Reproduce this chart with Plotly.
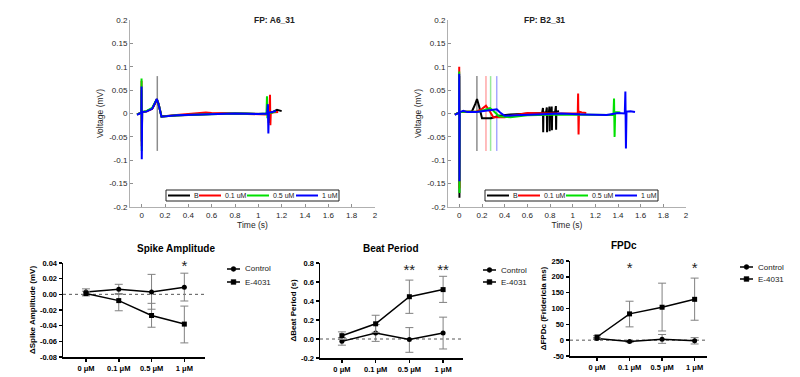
import plotly.graph_objects as go

# ---------------- Field potential traces ----------------
conc_labels = ["B", "0.1 uM", "0.5 uM", "1 uM"]
trace_colors = ["#000000", "#ff0000", "#00e000", "#0000ff"]
marker_colors = ["rgba(0,0,0,0.45)", "rgba(255,0,0,0.35)", "rgba(0,200,0,0.4)", "rgba(0,0,255,0.35)"]

# FP: A6_31
a6_B_t = [-0.04, -0.01, -0.003, -0.001, 0.001, 0.004, 0.04, 0.09, 0.115, 0.13, 0.145, 0.17, 0.25, 0.45, 0.7, 0.9, 1.07, 1.085, 1.09, 1.095, 1.1, 1.13, 1.16, 1.2]
a6_B_v = [-0.002, 0.0, 0.002, 0.05, -0.06, 0.003, 0.005, 0.01, 0.022, 0.031, 0.02, -0.006, -0.005, -0.003, 0.0, 0.0, -0.001, 0.015, -0.02, 0.003, 0.0, 0.004, 0.008, 0.005]
a6_01_t = [-0.04, -0.01, -0.003, -0.001, 0.001, 0.004, 0.04, 0.09, 0.115, 0.13, 0.145, 0.17, 0.3, 0.55, 0.6, 0.8, 1.0, 1.07, 1.095, 1.1, 1.103, 1.107, 1.12, 1.17]
a6_01_v = [-0.002, 0.0, 0.002, 0.07, -0.07, 0.003, 0.004, 0.01, 0.022, 0.03, 0.02, -0.007, -0.003, 0.002, 0.001, 0.0, -0.002, -0.002, 0.0, 0.04, -0.025, 0.003, 0.002, 0.003]
a6_05_t = [-0.04, -0.01, -0.003, -0.001, 0.001, 0.004, 0.04, 0.09, 0.115, 0.13, 0.145, 0.17, 0.3, 0.5, 0.8, 1.0, 1.07, 1.074, 1.078, 1.082, 1.1, 1.15]
a6_05_v = [-0.002, 0.0, 0.002, 0.075, -0.08, 0.003, 0.005, 0.012, 0.024, 0.03, 0.02, -0.007, -0.004, -0.002, 0.0, -0.001, 0.0, 0.037, -0.01, 0.002, 0.001, 0.004]
a6_1_t = [-0.04, -0.01, -0.003, -0.001, 0.001, 0.004, 0.04, 0.09, 0.115, 0.13, 0.145, 0.17, 0.3, 0.5, 0.8, 1.0, 1.075, 1.082, 1.086, 1.09, 1.12, 1.15]
a6_1_v = [-0.003, 0.0, 0.002, 0.058, -0.098, 0.003, 0.004, 0.01, 0.023, 0.031, 0.02, -0.007, -0.004, -0.002, 0.0, -0.001, 0.0, 0.02, -0.043, 0.002, 0.003, 0.006]
a6_marker_t = [0.134]

# FP: B2_31
b2_B_t = [-0.04, -0.01, -0.002, -0.001, 0.001, 0.003, 0.05, 0.11, 0.14, 0.156, 0.175, 0.2, 0.28, 0.35, 0.45, 0.6, 0.73,
          0.738, 0.74, 0.742, 0.765, 0.772, 0.774, 0.776, 0.79, 0.795, 0.797, 0.799, 0.81, 0.815, 0.817, 0.819, 0.845, 0.852, 0.854, 0.856, 0.88]
b2_B_v = [-0.002, 0.0, 0.002, 0.08, -0.18, 0.003, 0.004, 0.004, 0.02, 0.031, 0.015, -0.01, -0.01, -0.005, -0.002, 0.0, 0.001,
          0.012, -0.04, 0.002, 0.002, 0.013, -0.04, 0.002, 0.002, 0.015, -0.038, 0.002, 0.002, 0.015, -0.036, 0.002, 0.003, 0.016, -0.035, 0.004, 0.005]
b2_01_t = [-0.04, -0.01, -0.002, -0.001, 0.001, 0.003, 0.05, 0.15, 0.2, 0.235, 0.26, 0.3, 0.4, 0.5, 0.6, 0.8, 1.0, 1.045, 1.048, 1.052, 1.056, 1.08, 1.12]
b2_01_v = [-0.002, 0.0, 0.002, 0.1, -0.16, 0.003, 0.004, 0.004, 0.01, 0.0165, 0.008, -0.008, -0.008, -0.003, 0.001, 0.0, -0.001, 0.0, 0.043, -0.045, 0.004, 0.002, 0.001]
b2_05_t = [-0.04, -0.01, -0.002, -0.001, 0.001, 0.003, 0.05, 0.17, 0.23, 0.27, 0.3, 0.35, 0.45, 0.6, 0.9, 1.2, 1.36, 1.365, 1.37, 1.375, 1.4, 1.42]
b2_05_v = [-0.002, 0.0, 0.002, 0.09, -0.17, 0.003, 0.004, 0.004, 0.008, 0.0115, 0.006, -0.006, -0.008, -0.004, -0.002, -0.002, -0.003, 0.032, -0.05, 0.003, 0.002, 0.002]
b2_1_t = [-0.04, -0.01, -0.002, -0.001, 0.001, 0.003, 0.035, 0.07, 0.15, 0.25, 0.33, 0.36, 0.4, 0.5, 0.7, 0.9, 1.1, 1.3, 1.4, 1.46, 1.465, 1.47, 1.475, 1.51, 1.55]
b2_1_v = [-0.003, 0.0, 0.002, 0.085, -0.145, 0.003, 0.006, 0.003, 0.003, 0.006, 0.009, 0.002, -0.005, -0.004, -0.002, 0.0, -0.002, -0.003, 0.001, 0.0, 0.047, -0.075, 0.004, 0.005, 0.003]
b2_marker_t = [0.155, 0.235, 0.276, 0.33]

marker_v = [-0.08, 0.08]

# ---------------- Summary statistics ----------------
categories = ["0 μM", "0.1 μM", "0.5 μM", "1 μM"]
cat_pos = [0, 1, 2, 3]
group_names = ["Control", "E-4031"]

spike_ctrl = [0.003, 0.0064, 0.003, 0.009]
spike_ctrl_up = [0.004, 0.0064, 0.0225, 0.018]
spike_ctrl_dn = [0.004, 0.0064, 0.022, 0.0175]
spike_e = [0.001, -0.008, -0.027, -0.038]
spike_e_up = [0.003, 0.009, 0.0155, 0.023]
spike_e_dn = [0.003, 0.013, 0.015, 0.024]
spike_star_x = [3]
spike_star_y = [0.034]
spike_star_txt = ["*"]

beat_ctrl = [-0.025, 0.063, -0.005, 0.063]
beat_ctrl_up = [0.04, 0.09, 0.125, 0.167]
beat_ctrl_dn = [0.04, 0.088, 0.135, 0.168]
beat_e = [0.035, 0.16, 0.445, 0.52]
beat_e_up = [0.04, 0.09, 0.175, 0.14]
beat_e_dn = [0.04, 0.09, 0.175, 0.135]
beat_star_x = [2, 3]
beat_star_y = [0.71, 0.71]
beat_star_txt = ["**", "**"]

fpd_ctrl = [5, -4, 3, -2]
fpd_ctrl_up = [3, 3, 15, 10]
fpd_ctrl_dn = [3, 3, 13, 10]
fpd_e = [10, 83, 104, 129]
fpd_e_up = [4, 40, 76, 67]
fpd_e_dn = [4, 41, 75, 66]
fpd_star_x = [1, 3]
fpd_star_y = [225, 225]
fpd_star_txt = ["*", "*"]

fp_x_ticks = [0, 0.2, 0.4, 0.6, 0.8, 1, 1.2, 1.4, 1.6, 1.8, 2]
fp_x_text = ["0", "0.2", "0.4", "0.6", "0.8", "1", "1.2", "1.4", "1.6", "1.8", "2"]
fp_y_ticks = [-0.2, -0.15, -0.1, -0.05, 0, 0.05, 0.1, 0.15, 0.2]
fp_y_text = ["-0.2", "-0.15", "-0.1", "-0.05", "0", "0.05", "0.1", "0.15", "0.2"]

spike_y_ticks = [-0.08, -0.06, -0.04, -0.02, 0.0, 0.02, 0.04]
spike_y_text = ["-0.08", "-0.06", "-0.04", "-0.02", "0.00", "0.02", "0.04"]
beat_y_ticks = [-0.2, 0.0, 0.2, 0.4, 0.6, 0.8]
beat_y_text = ["-0.2", "0.0", "0.2", "0.4", "0.6", "0.8"]
fpd_y_ticks = [-50, 0, 50, 100, 150, 200, 250]
fpd_y_text = ["-50", "0", "50", "100", "150", "200", "250"]

FONT = "Liberation Sans, Arial, sans-serif"
W, H = 800, 377


def px(x):
    return x / W


def py(y):
    return (H - y) / H


fig = go.Figure()

# ---- top panels ----
a6_series = [(a6_B_t, a6_B_v), (a6_01_t, a6_01_v), (a6_05_t, a6_05_v), (a6_1_t, a6_1_v)]
b2_series = [(b2_B_t, b2_B_v), (b2_01_t, b2_01_v), (b2_05_t, b2_05_v), (b2_1_t, b2_1_v)]

for t in a6_marker_t:
    fig.add_trace(go.Scatter(x=[t, t], y=marker_v, mode="lines", line=dict(color=marker_colors[0], width=1.5),
                             showlegend=False, hoverinfo="skip", xaxis="x", yaxis="y"))
for i, t in enumerate(b2_marker_t):
    fig.add_trace(go.Scatter(x=[t, t], y=marker_v, mode="lines", line=dict(color=marker_colors[i], width=1.5),
                             showlegend=False, hoverinfo="skip", xaxis="x2", yaxis="y2"))

for i, (t, v) in enumerate(a6_series):
    fig.add_trace(go.Scatter(x=t, y=v, mode="lines", name=conc_labels[i], showlegend=False,
                             line=dict(color=trace_colors[i], width=2), xaxis="x", yaxis="y"))
for i, (t, v) in enumerate(b2_series):
    fig.add_trace(go.Scatter(x=t, y=v, mode="lines", name=conc_labels[i], showlegend=False,
                             line=dict(color=trace_colors[i], width=2), xaxis="x2", yaxis="y2"))


# ---- bottom panels ----
def add_summary(xa, ya, ctrl, cu, cd, e, eu, ed, sx, sy, st):
    fig.add_trace(go.Scatter(x=cat_pos, y=ctrl, mode="lines+markers", name=group_names[0], showlegend=False,
                             line=dict(color="black", width=1.5), marker=dict(symbol="circle", size=5, color="black"),
                             error_y=dict(type="data", array=cu, arrayminus=cd, color="#808080", thickness=1, width=4),
                             xaxis=xa, yaxis=ya))
    fig.add_trace(go.Scatter(x=cat_pos, y=e, mode="lines+markers", name=group_names[1], showlegend=False,
                             line=dict(color="black", width=1.5), marker=dict(symbol="square", size=5, color="black"),
                             error_y=dict(type="data", array=eu, arrayminus=ed, color="#808080", thickness=1, width=4),
                             xaxis=xa, yaxis=ya))
    fig.add_trace(go.Scatter(x=sx, y=sy, mode="text", text=st, textfont=dict(size=15, color="#222", family=FONT),
                             showlegend=False, hoverinfo="skip", cliponaxis=False, xaxis=xa, yaxis=ya))


add_summary("x3", "y3", spike_ctrl, spike_ctrl_up, spike_ctrl_dn, spike_e, spike_e_up, spike_e_dn,
            spike_star_x, spike_star_y, spike_star_txt)
add_summary("x4", "y4", beat_ctrl, beat_ctrl_up, beat_ctrl_dn, beat_e, beat_e_up, beat_e_dn,
            beat_star_x, beat_star_y, beat_star_txt)
add_summary("x5", "y5", fpd_ctrl, fpd_ctrl_up, fpd_ctrl_dn, fpd_e, fpd_e_up, fpd_e_dn,
            fpd_star_x, fpd_star_y, fpd_star_txt)

shapes = []
annotations = []
for xa, ya in [("x3", "y3"), ("x4", "y4"), ("x5", "y5")]:
    shapes.append(dict(type="line", xref=xa + " domain", yref=ya, x0=0, x1=1, y0=0, y1=0,
                       line=dict(color="#555", width=1, dash="dot"), layer="below"))

# ---- legends drawn as boxed keys (layout positions in pixels) ----
top_legend_boxes = [(166, 190, 339, 201), (485, 190, 658, 201)]
top_legend_offsets = [2, 33, 81, 130]
for (bx0, by0, bx1, by1) in top_legend_boxes:
    shapes.append(dict(type="rect", xref="paper", yref="paper", x0=px(bx0), x1=px(bx1), y0=py(by1), y1=py(by0),
                       line=dict(color="#222", width=1), fillcolor="white", layer="above"))
    yc = (by0 + by1) / 2
    for i, off in enumerate(top_legend_offsets):
        lx = bx0 + off
        shapes.append(dict(type="line", xref="paper", yref="paper", x0=px(lx), x1=px(lx + 22), y0=py(yc), y1=py(yc),
                           line=dict(color=trace_colors[i], width=2), layer="above"))
        annotations.append(dict(text=conc_labels[i], x=px(lx + 24), y=py(yc), xref="paper", yref="paper",
                                xanchor="left", yanchor="middle", showarrow=False,
                                font=dict(family=FONT, size=7, color="#222")))

bottom_legends = [(227, 269, 282), (483, 270, 282), (740, 267, 279)]
for (lx, r1, r2) in bottom_legends:
    for j, ry in enumerate([r1, r2]):
        shapes.append(dict(type="line", xref="paper", yref="paper", x0=px(lx), x1=px(lx + 13), y0=py(ry), y1=py(ry),
                           line=dict(color="black", width=1.5), layer="above"))
        cx = lx + 6.5
        shapes.append(dict(type="circle" if j == 0 else "rect", xref="paper", yref="paper",
                           x0=px(cx - 2.4), x1=px(cx + 2.4), y0=py(ry + 2.4), y1=py(ry - 2.4),
                           line=dict(color="black", width=0.5), fillcolor="black", layer="above"))
        annotations.append(dict(text=group_names[j], x=px(lx + 16), y=py(ry), xref="paper", yref="paper",
                                xanchor="left", yanchor="middle", showarrow=False,
                                font=dict(family=FONT, size=8, color="#222")))

annotations += [
    dict(text="<b>FP: A6_31</b>", x=px(252), y=py(13), xref="paper", yref="paper", showarrow=False,
         font=dict(family=FONT, size=8.5, color="#222")),
    dict(text="<b>FP: B2_31</b>", x=px(567), y=py(13), xref="paper", yref="paper", showarrow=False,
         font=dict(family=FONT, size=8.5, color="#222")),
    dict(text="<b>Spike Amplitude</b>", x=px(135), y=py(248), xref="paper", yref="paper",
         showarrow=False, font=dict(family=FONT, size=10, color="black")),
    dict(text="<b>Beat Period</b>", x=px(391), y=py(248), xref="paper", yref="paper",
         showarrow=False, font=dict(family=FONT, size=10, color="black")),
    dict(text="<b>FPDc</b>", x=px(639), y=py(245), xref="paper", yref="paper",
         showarrow=False, font=dict(family=FONT, size=10, color="black")),
]

top_font = dict(family=FONT, size=8, color="#262626")
top_x = dict(range=[-0.1, 2.0], tickvals=fp_x_ticks, ticktext=fp_x_text, showline=True, linecolor="#b0b0b0",
             linewidth=1, ticks="inside", ticklen=3, tickcolor="#909090", showgrid=False, zeroline=False,
             tickfont=top_font, automargin=False,
             title=dict(text="Time (s)", font=dict(family=FONT, size=8.5, color="#262626"), standoff=2))
top_y = dict(range=[-0.2, 0.2], tickvals=fp_y_ticks, ticktext=fp_y_text, showline=True, linecolor="#b0b0b0",
             linewidth=1, ticks="inside", ticklen=3, tickcolor="#909090", showgrid=False, zeroline=False,
             tickfont=top_font, automargin=False,
             title=dict(text="Voltage (mV)", font=dict(family=FONT, size=8.5, color="#262626"), standoff=4))

bot_font = dict(family=FONT, size=7.5, color="black", weight="bold")


def bot_x(rng, dom, anchor):
    return dict(domain=dom, anchor=anchor, range=rng, tickvals=cat_pos, ticktext=categories, showline=True,
                linecolor="black", linewidth=1.5, ticks="outside", ticklen=3, tickwidth=1.5, tickcolor="black",
                showgrid=False, zeroline=False, tickfont=bot_font, automargin=False)


def bot_y(rng, dom, anchor, tv, tt, title):
    return dict(domain=dom, anchor=anchor, range=rng, tickvals=tv, ticktext=tt, showline=True,
                linecolor="black", linewidth=1.5, ticks="outside", ticklen=3, tickwidth=1.5, tickcolor="black",
                showgrid=False, zeroline=False, tickfont=bot_font, automargin=False,
                title=dict(text=title, font=dict(family=FONT, size=8, color="black", weight="bold"), standoff=3))


fig.update_layout(
    width=W, height=H, margin=dict(l=0, r=0, t=0, b=0, autoexpand=False),
    paper_bgcolor="white", plot_bgcolor="white", showlegend=False,
    xaxis=dict(top_x, domain=[px(130), px(375)], anchor="y"),
    yaxis=dict(top_y, domain=[py(207), py(20)], anchor="x"),
    xaxis2=dict(top_x, domain=[px(448), px(686)], anchor="y2"),
    yaxis2=dict(top_y, domain=[py(207), py(20)], anchor="x2"),
    xaxis3=bot_x([-0.70, 3.63], [px(63), px(205)], "y3"),
    yaxis3=bot_y([-0.08, 0.04], [py(357), py(263)], "x3", spike_y_ticks, spike_y_text, "ΔSpike Amplitude (mV)"),
    xaxis4=bot_x([-0.65, 3.59], [px(320), px(463)], "y4"),
    yaxis4=bot_y([-0.2, 0.8], [py(358), py(263)], "x4", beat_y_ticks, beat_y_text, "ΔBeat Period (s)"),
    xaxis5=bot_x([-0.83, 3.38], [px(570), px(707)], "y5"),
    yaxis5=bot_y([-50, 250], [py(356), py(261)], "x5", fpd_y_ticks, fpd_y_text, "ΔFPDc (Fridericia ms)"),
    shapes=shapes,
    annotations=annotations,
)

fig.write_html("out.html", config={"displayModeBar": False, "staticPlot": True},
               post_script="document.body.style.margin='0';document.body.style.overflow='hidden';")
